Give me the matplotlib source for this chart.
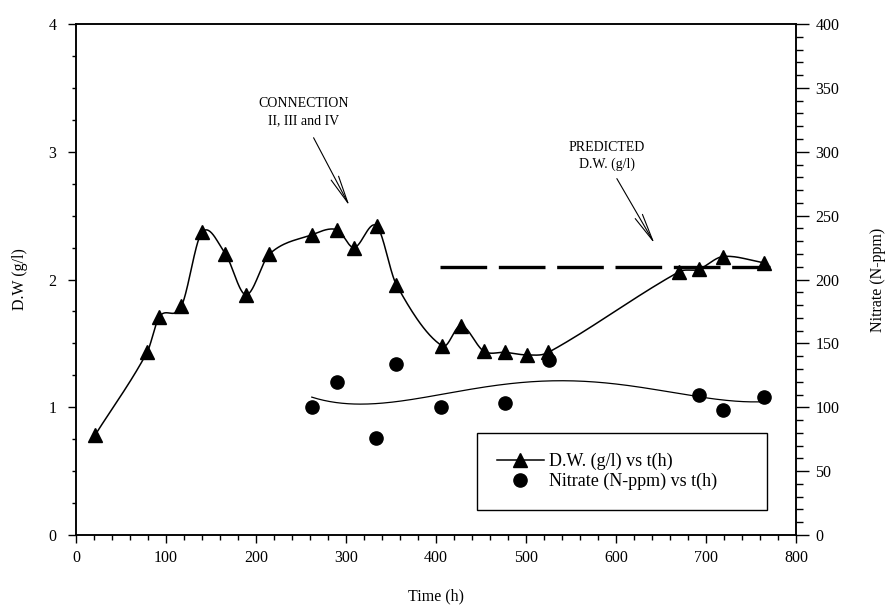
import numpy as np
import matplotlib
matplotlib.use("Agg")
import matplotlib.pyplot as plt
from matplotlib.ticker import MultipleLocator
from matplotlib.lines import Line2D

# dry weight (left axis)
t_dw = [21, 79, 92.6, 117, 140, 166, 189, 215, 262, 290, 309, 334, 356,
        407, 428, 453, 477, 501, 525, 670, 692, 719, 765]
dw = [0.78, 1.43, 1.71, 1.79, 2.37, 2.20, 1.88, 2.20, 2.35, 2.39, 2.25, 2.42, 1.96,
      1.48, 1.64, 1.44, 1.43, 1.41, 1.43, 2.06, 2.08, 2.18, 2.13]

# nitrate (right axis)
t_no3 = [262, 290, 333, 356, 406, 477, 526, 692, 718.5, 765]
no3 = [100, 120, 76, 134, 100, 103, 137, 110, 98, 108]

# predicted D.W.
t_pred = [405, 771]
dw_pred = [2.1, 2.1]


def smooth_curve(x, y, n=30):
    # cubic hermite through the points, tangents from neighbouring points
    x = np.asarray(x, float)
    y = np.asarray(y, float)
    m = np.zeros(len(x))
    m[1:-1] = (y[2:] - y[:-2]) / (x[2:] - x[:-2])
    m[0] = (y[1] - y[0]) / (x[1] - x[0])
    m[-1] = (y[-1] - y[-2]) / (x[-1] - x[-2])
    xs_all, ys_all = [], []
    for i in range(len(x) - 1):
        h = x[i + 1] - x[i]
        s = np.linspace(0, 1, n)
        h00 = 2 * s**3 - 3 * s**2 + 1
        h10 = s**3 - 2 * s**2 + s
        h01 = -2 * s**3 + 3 * s**2
        h11 = s**3 - s**2
        xs_all.append(x[i] + s * h)
        ys_all.append(h00 * y[i] + h10 * h * m[i] + h01 * y[i + 1] + h11 * h * m[i + 1])
    return np.concatenate(xs_all), np.concatenate(ys_all)


plt.rcParams['font.family'] = ['Liberation Serif', 'DejaVu Serif']

fig = plt.figure(figsize=(8.91, 6.13), dpi=100)
ax = fig.add_axes([0.0853, 0.1272, 0.808, 0.8336])
ax2 = ax.twinx()

# D.W. curve + markers
xs, ys = smooth_curve(t_dw, dw)
ax.plot(xs, ys, color='black', lw=1.1)
ax.plot(t_dw, dw, '^', color='black', ms=10, mec='black')

# predicted line
ax.plot(t_pred, dw_pred, color='black', lw=2.4, dashes=(14, 3.5))

# nitrate points + regression curve
ax2.plot(t_no3, no3, 'o', color='black', ms=9.5)
coef = np.polyfit(t_no3, no3, 4)
tt = np.linspace(min(t_no3), max(t_no3), 300)
ax2.plot(tt, np.polyval(coef, tt), color='black', lw=0.9)

ax.set_xlim(0, 800)
ax.set_ylim(0, 4)
ax2.set_ylim(0, 400)

ax.xaxis.set_major_locator(MultipleLocator(100))
ax.xaxis.set_minor_locator(MultipleLocator(20))
ax.yaxis.set_major_locator(MultipleLocator(1))
ax.yaxis.set_minor_locator(MultipleLocator(0.25))
ax2.yaxis.set_major_locator(MultipleLocator(50))
ax2.yaxis.set_minor_locator(MultipleLocator(10))

ax.tick_params(axis='x', which='major', direction='out', length=6, width=1, labelsize=11.5, pad=5)
ax.tick_params(axis='x', which='minor', direction='out', length=3.5, width=1)
ax.tick_params(axis='y', which='major', direction='out', length=6, width=1, labelsize=11.5, pad=8)
ax.tick_params(axis='y', which='minor', direction='out', length=3, width=1)
ax2.tick_params(axis='y', which='major', direction='out', length=9, width=1, labelsize=11.5, pad=5)
ax2.tick_params(axis='y', which='minor', direction='out', length=5, width=1)

for a in (ax, ax2):
    for s in a.spines.values():
        s.set_linewidth(1.1)

ax.set_xlabel('Time (h)', fontsize=11.5, labelpad=16)
ax.set_ylabel('D.W (g/l)', fontsize=11.5, labelpad=15)
ax2.set_ylabel('Nitrate (N-ppm)', fontsize=11.5, labelpad=22)

# annotations
ax.annotate('', xy=(304, 2.575), xytext=(264, 3.11),
            arrowprops=dict(arrowstyle='->,head_length=2.0,head_width=0.3',
                            lw=0.8, color='black', shrinkA=0, shrinkB=0))
ax.text(253, 3.31, 'CONNECTION\nII, III and IV', ha='center', va='center',
        fontsize=10, linespacing=1.35)
ax.annotate('', xy=(643, 2.28), xytext=(601, 2.79),
            arrowprops=dict(arrowstyle='->,head_length=2.0,head_width=0.3',
                            lw=0.8, color='black', shrinkA=0, shrinkB=0))
ax.text(590, 2.97, 'PREDICTED\nD.W. (g/l)', ha='center', va='center',
        fontsize=10, linespacing=1.35)

# legend
h1 = Line2D([], [], color='black', lw=1.1, marker='^', ms=10)
h2 = Line2D([], [], color='black', ls='none', marker='o', ms=9.5)
leg = ax2.legend([h1, h2], ['D.W. (g/l) vs t(h)', 'Nitrate (N-ppm) vs t(h)'],
                 loc='upper left', bbox_to_anchor=(0.557, 0.0, 0.4028, 0.1996),
                 mode='expand', fontsize=13, frameon=True, fancybox=False,
                 edgecolor='black', framealpha=1, borderpad=1.1,
                 handlelength=2.6, handletextpad=0.3, labelspacing=0.15,
                 borderaxespad=0)
leg.get_frame().set_linewidth(1.0)

fig.savefig('out.png', dpi=100)
